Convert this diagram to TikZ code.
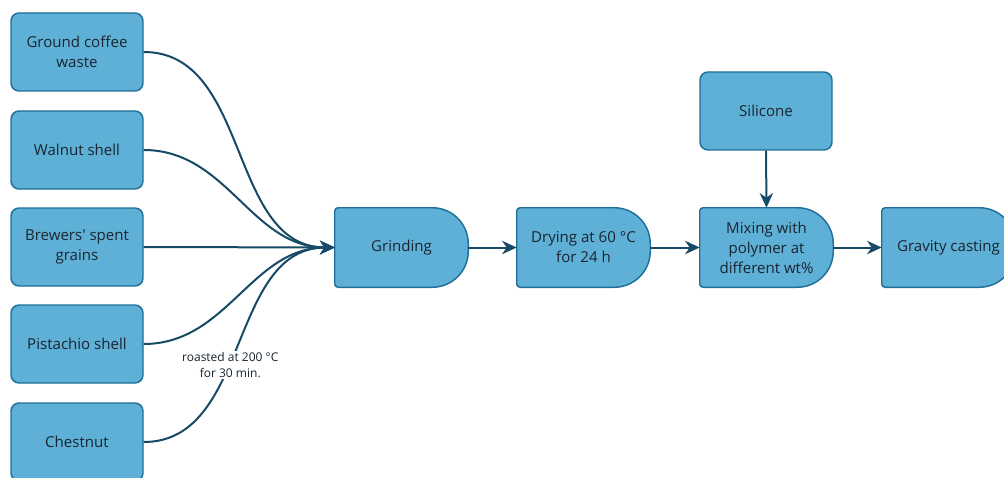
\documentclass[tikz,border=0pt]{standalone}
\usepackage{fontspec}
\setmainfont{Open Sans}
\usetikzlibrary{arrows.meta,calc}
\definecolor{boxfill}{HTML}{5EB0D6}
\definecolor{boxline}{HTML}{1F6F99}
\definecolor{conn}{HTML}{174A66}
\definecolor{txt}{HTML}{1A2530}
\tikzset{
  srcbox/.style={draw=boxline, fill=boxfill, line width=1.1pt, rounded corners=6pt,
    minimum width=99pt, minimum height=58.5pt, align=center, inner sep=2pt,
    text=txt, font=\fontsize{11.3}{15}\selectfont},
  proctext/.style={minimum width=99.75pt, minimum height=59.25pt, align=center, inner sep=2pt,
    text=txt, font=\fontsize{11.3}{15}\selectfont},
  delayline/.style={draw=boxline, fill=boxfill, line width=1.1pt},
  conn/.style={draw=conn, line width=1.5pt, -{Stealth[length=11pt,width=10pt,inset=3.5pt]}},
  flow/.style={conn, out=0, in=180},
  lbl/.style={fill=white, text=txt, font=\fontsize{9}{12.5}\selectfont, align=center, inner sep=1pt}
}
\newcommand{\delayshape}[1]{%
  \path[delayline] (#1.west) [rounded corners=2.5pt] -- (#1.north west)
    [rounded corners=27pt] -- (#1.north east) -- (#1.south east)
    [rounded corners=2.5pt] -- (#1.south west) -- cycle;}
\begin{document}
\begin{tikzpicture}[x=0.75pt,y=-0.75pt]
\useasboundingbox (0,0) rectangle (1004,478);
\clip (0,0) rectangle (1004,478);
% source nodes
\node[srcbox] (coffee) at (77,52) {Ground coffee\\waste};
\node[srcbox] (walnut) at (77,150) {Walnut shell};
\node[srcbox] (brew) at (77,247) {Brewers\textquotesingle{} spent\\grains};
\node[srcbox] (pist) at (77,344) {Pistachio shell};
\node[srcbox] (chest) at (77,442) {Chestnut};
% process nodes
\node[proctext] (grind) at (401.5,247.5) {};
\node[proctext] (dry) at (583.5,247.5) {};
\node[proctext] (mix) at (766.5,247.5) {};
\node[proctext] (cast) at (948.5,247.5) {};
\delayshape{grind}\delayshape{dry}\delayshape{mix}\delayshape{cast}
\node[proctext] at (grind) {Grinding};
\node[proctext] at (dry) {Drying at 60 °C\\for 24 h};
\node[proctext] at (mix) {Mixing with\\polymer at\\different wt\%};
\node[proctext] at (cast) {Gravity casting};
\node[srcbox] (sil) at (766,111) {Silicone};
% connectors
\draw[flow] (coffee.east) to (grind.west);
\draw[flow] (walnut.east) to (grind.west);
\draw[flow] (brew.east) to (grind.west);
\draw[flow] (pist.east) to (grind.west);
\draw[flow] (chest.east) to node[lbl, pos=0.43] {roasted at 200 °C\\for 30 min.} (grind.west);
\draw[conn] (grind.east) -- (dry.west);
\draw[conn] (dry.east) -- (mix.west);
\draw[conn] (mix.east) -- (cast.west);
\draw[conn] (sil.south) -- (mix.north);
\end{tikzpicture}
\end{document}
